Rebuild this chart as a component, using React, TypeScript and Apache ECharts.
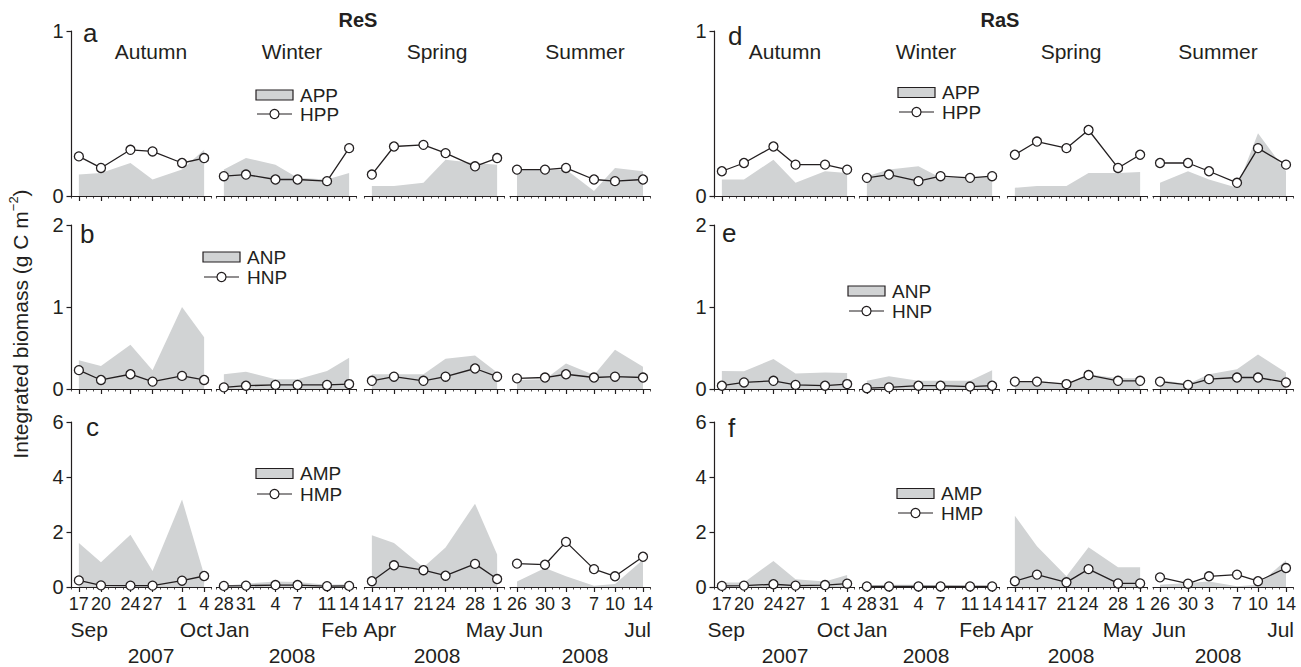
import React, { useEffect, useRef } from 'react';
import * as echarts from 'echarts';

// ---------- categories / labels ----------
const seasons = ['Autumn', 'Winter', 'Spring', 'Summer'];
const sampleDays = [
  [0, 3, 7, 10, 14, 17],
  [0, 3, 7, 10, 14, 17],
  [0, 3, 7, 10, 14, 17],
  [0, 4, 7, 11, 14, 18],
];
const spanDays = [17, 17, 17, 18];
const dayLabels = [
  ['17', '20', '24', '27', '1', '4'],
  ['28', '31', '4', '7', '11', '14'],
  ['14', '17', '21', '24', '28', '1'],
  ['26', '30', '3', '7', '10', '14'],
];
const monthStart = ['Sep', 'Jan', 'Apr', 'Jun'];
const monthEnd = ['Oct', 'Feb', 'May', 'Jul'];
const years = ['2007', '2008', '2008', '2008'];
const panels = ['ReS', 'RaS'];
const letters = [['a', 'b', 'c'], ['d', 'e', 'f']];
const legendNames = [['APP', 'HPP'], ['ANP', 'HNP'], ['AMP', 'HMP']];
const rowMax = [1, 2, 6];
const rowInterval = [1, 1, 2];

// ---------- ReS values (per season: Autumn, Winter, Spring, Summer) ----------
const resAPP = [
  [0.13, 0.14, 0.2, 0.1, 0.16, 0.28],
  [0.16, 0.23, 0.19, 0.11, 0.1, 0.14],
  [0.06, 0.06, 0.08, 0.22, 0.2, 0.19],
  [0.16, 0.16, 0.16, 0.03, 0.17, 0.15],
];
const resHPP = [
  [0.24, 0.17, 0.28, 0.27, 0.2, 0.23],
  [0.12, 0.13, 0.1, 0.1, 0.09, 0.29],
  [0.13, 0.3, 0.31, 0.26, 0.18, 0.23],
  [0.16, 0.16, 0.17, 0.1, 0.09, 0.1],
];
const resANP = [
  [0.35, 0.28, 0.54, 0.23, 1.0, 0.63],
  [0.18, 0.21, 0.12, 0.12, 0.22, 0.38],
  [0.18, 0.18, 0.18, 0.37, 0.41, 0.2],
  [0.11, 0.12, 0.31, 0.17, 0.48, 0.27],
];
const resHNP = [
  [0.23, 0.11, 0.18, 0.09, 0.16, 0.11],
  [0.02, 0.04, 0.05, 0.05, 0.05, 0.06],
  [0.1, 0.15, 0.1, 0.15, 0.25, 0.15],
  [0.13, 0.14, 0.18, 0.14, 0.15, 0.14],
];
const resAMP = [
  [1.6, 0.9, 1.9, 0.58, 3.18, 0.45],
  [0.05, 0.12, 0.2, 0.18, 0.08, 0.1],
  [1.88, 1.6, 0.72, 1.44, 3.03, 1.18],
  [0.2, 0.69, 0.39, 0.05, 0.11, 0.99],
];
const resHMP = [
  [0.24, 0.06, 0.05, 0.05, 0.23, 0.4],
  [0.04, 0.05, 0.07, 0.07, 0.03, 0.04],
  [0.21, 0.79, 0.61, 0.41, 0.84, 0.29],
  [0.85, 0.81, 1.64, 0.65, 0.39, 1.1],
];

// ---------- RaS values ----------
const rasAPP = [
  [0.1, 0.1, 0.22, 0.08, 0.15, 0.14],
  [0.12, 0.16, 0.18, 0.11, 0.11, 0.12],
  [0.05, 0.06, 0.06, 0.14, 0.14, 0.145],
  [0.08, 0.15, 0.1, 0.05, 0.38, 0.15],
];
const rasHPP = [
  [0.15, 0.2, 0.3, 0.19, 0.19, 0.16],
  [0.11, 0.13, 0.09, 0.12, 0.11, 0.12],
  [0.25, 0.33, 0.29, 0.4, 0.17, 0.25],
  [0.2, 0.2, 0.15, 0.08, 0.29, 0.19],
];
const rasANP = [
  [0.22, 0.215, 0.365, 0.19, 0.2, 0.195],
  [0.1, 0.155, 0.1, 0.1, 0.1, 0.23],
  [0.09, 0.1, 0.06, 0.18, 0.13, 0.13],
  [0.11, 0.06, 0.18, 0.24, 0.42, 0.2],
];
const rasHNP = [
  [0.04, 0.08, 0.1, 0.05, 0.04, 0.06],
  [0.01, 0.02, 0.04, 0.04, 0.03, 0.04],
  [0.09, 0.09, 0.06, 0.17, 0.1, 0.1],
  [0.09, 0.05, 0.12, 0.14, 0.14, 0.08],
];
const rasAMP = [
  [0.16, 0.16, 0.95, 0.28, 0.2, 0.44],
  [0.06, 0.08, 0.08, 0.06, 0.05, 0.05],
  [2.59, 1.48, 0.39, 1.45, 0.72, 0.72],
  [0.08, 0.15, 0.2, 0.03, 0.08, 0.97],
];
const rasHMP = [
  [0.04, 0.05, 0.1, 0.05, 0.07, 0.12],
  [0.02, 0.02, 0.02, 0.02, 0.02, 0.02],
  [0.21, 0.45, 0.17, 0.65, 0.13, 0.13],
  [0.35, 0.12, 0.39, 0.45, 0.21, 0.69],
];

const panelData = [
  [[resAPP, resHPP], [resANP, resHNP], [resAMP, resHMP]],
  [[rasAPP, rasHPP], [rasANP, rasHNP], [rasAMP, rasHMP]],
];

// ---------- layout / style ----------
const INK = '#231f20';
const GRAY = '#d1d3d4';
const FONT = '"Liberation Sans", Arial, Helvetica, sans-serif';
const PANEL_X = [71.5, 714.5];
const SEASON_OFF = [0, 145, 293, 438.5];
const SEASON_W = [140, 140, 140, 140];
const ROW_TOP = [31, 225, 422];
const ROW_H = [165, 164, 165];
const SEASON_LABEL_X = [
  [151, 292, 437, 585],
  [785, 926, 1071, 1218],
];
const MONTH_SHIFT = [
  [0, 0, 0, 0],
  [-6, -5, -6, 0],
];
const TITLE_X = [358, 1000];
const LETTER_POS = [
  [[83, 33], [80, 234], [86, 427]],
  [[728, 36], [722, 233], [728, 428]],
];
const LEGEND_POS = [
  [[256, 95, 114], [203, 257, 277], [256, 473.5, 494]],
  [[898, 92.5, 112], [848, 291, 311], [897, 493.5, 513]],
];

export default function App() {
  const ref = useRef<HTMLDivElement>(null);
  useEffect(() => {
    const chart = echarts.init(ref.current!, null, { renderer: 'svg' });
    const grids: any[] = [];
    const xAxes: any[] = [];
    const yAxes: any[] = [];
    const series: any[] = [];
    const graphics: any[] = [];
    let g = 0;
    for (let p = 0; p < 2; p++) {
      for (let r = 0; r < 3; r++) {
        for (let s = 0; s < 4; s++) {
          const left = PANEL_X[p] + SEASON_OFF[s];
          grids.push({ left, top: ROW_TOP[r], width: SEASON_W[s], height: ROW_H[r], containLabel: false });
          const n = spanDays[s];
          const cats = Array.from({ length: n + 3 }, (_, i) => String(i - 1));
          const labelMap: Record<string, string> = {};
          sampleDays[s].forEach((d, k) => (labelMap[String(d)] = dayLabels[s][k]));
          const isSample = (i: number) => sampleDays[s].includes(i - 1);
          xAxes.push({
            type: 'category', gridIndex: g, position: 'bottom', data: cats, boundaryGap: false,
            axisLine: { show: true, onZero: false, lineStyle: { color: INK, width: 1.2 } },
            axisTick: { show: true, interval: (i: number) => isSample(i), length: 5, lineStyle: { color: INK, width: 1.2 } },
            axisLabel: {
              show: r === 2, interval: (i: number) => isSample(i),
              formatter: (v: string) => labelMap[v] ?? '',
              margin: 8, fontSize: 18, color: INK, fontFamily: FONT,
            },
            splitLine: { show: false },
          });
          const majorIdx = xAxes.length - 1;
          xAxes.push({
            type: 'category', gridIndex: g, position: 'bottom', data: cats, boundaryGap: false,
            axisLine: { show: false },
            axisTick: { show: true, interval: 0, length: 2.5, lineStyle: { color: INK, width: 0.8 } },
            axisLabel: { show: false }, splitLine: { show: false },
          });
          yAxes.push({
            type: 'value', gridIndex: g, min: 0, max: rowMax[r], interval: rowInterval[r], show: s === 0,
            axisLine: { show: true, lineStyle: { color: INK, width: 1.2 } },
            axisTick: { show: true, length: 5, lineStyle: { color: INK, width: 1.2 } },
            axisLabel: { fontSize: 20, color: INK, margin: 8, fontFamily: FONT },
            splitLine: { show: false },
          });
          const [areaVals, lineVals] = panelData[p][r];
          const areaPts = sampleDays[s].map((d, k) => [d + 1, areaVals[s][k]]);
          const linePts = sampleDays[s].map((d, k) => [d + 1, lineVals[s][k]]);
          series.push({
            type: 'line', name: legendNames[r][0], xAxisIndex: majorIdx, yAxisIndex: g, data: areaPts,
            symbol: 'none', showSymbol: false, lineStyle: { width: 0, opacity: 0 },
            areaStyle: { color: GRAY, opacity: 1 }, z: 1, silent: true,
          });
          series.push({
            type: 'line', name: legendNames[r][1], xAxisIndex: majorIdx, yAxisIndex: g, data: linePts,
            symbol: 'circle', symbolSize: 9, showSymbol: true, showAllSymbol: true,
            lineStyle: { color: INK, width: 1.3 },
            itemStyle: { color: '#ffffff', borderColor: INK, borderWidth: 1.3 }, z: 3, clip: false,
          });

          // month / year labels under the bottom row
          if (r === 2) {
            const sh = MONTH_SHIFT[p][s];
            const gl = left + sh, gr = left + SEASON_W[s] + sh;
            const base = ROW_TOP[2] + ROW_H[2];
            graphics.push({ type: 'text', x: gl - 1, y: base + 42, style: { text: monthStart[s], fontSize: 21, fontFamily: FONT, fill: INK, align: 'left', verticalAlign: 'middle' } });
            graphics.push({ type: 'text', x: gr + 1, y: base + 42, style: { text: monthEnd[s], fontSize: 21, fontFamily: FONT, fill: INK, align: 'right', verticalAlign: 'middle' } });
            graphics.push({ type: 'text', x: SEASON_LABEL_X[p][s], y: base + 68, style: { text: years[s], fontSize: 21, fontFamily: FONT, fill: INK, align: 'center', verticalAlign: 'middle' } });
          }
          if (r === 0) {
            graphics.push({ type: 'text', x: SEASON_LABEL_X[p][s], y: 51, style: { text: seasons[s], fontSize: 21, fontFamily: FONT, fill: INK, align: 'center', verticalAlign: 'middle' } });
          }
          g++;
        }
        // panel letter
        const [lx, ly] = LETTER_POS[p][r];
        graphics.push({ type: 'text', x: lx, y: ly, style: { text: letters[p][r], fontSize: 26, fontFamily: FONT, fill: INK, align: 'left', verticalAlign: 'middle' } });
        // legend
        const [bx, y1, y2] = LEGEND_POS[p][r];
        graphics.push({ type: 'rect', shape: { x: bx, y: y1 - 5, width: 37, height: 10 }, style: { fill: GRAY, stroke: INK, lineWidth: 1.2 } });
        graphics.push({ type: 'text', x: bx + 44, y: y1, style: { text: legendNames[r][0], fontSize: 19, fontFamily: FONT, fill: INK, align: 'left', verticalAlign: 'middle' } });
        graphics.push({ type: 'line', shape: { x1: bx + 1, y1: y2, x2: bx + 36, y2: y2 }, style: { stroke: INK, lineWidth: 1.2 } });
        graphics.push({ type: 'circle', shape: { cx: bx + 18.5, cy: y2, r: 4.5 }, style: { fill: '#ffffff', stroke: INK, lineWidth: 1.2 }, z: 101 });
        graphics.push({ type: 'text', x: bx + 44, y: y2, style: { text: legendNames[r][1], fontSize: 19, fontFamily: FONT, fill: INK, align: 'left', verticalAlign: 'middle' } });
      }
      graphics.push({ type: 'text', x: TITLE_X[p], y: 20, style: { text: panels[p], fontSize: 20, fontWeight: 'bold', fontFamily: FONT, fill: INK, align: 'center', verticalAlign: 'middle' } });
    }
    graphics.push({
      type: 'text', x: 19, y: 324, rotation: Math.PI / 2,
      style: {
        text: '{n|Integrated biomass (g C m}{s|−2}{n|)}',
        align: 'center', verticalAlign: 'middle', fill: INK, fontFamily: FONT,
        rich: {
          n: { fontSize: 21, fontFamily: FONT, fill: INK, lineHeight: 24, verticalAlign: 'bottom' },
          s: { fontSize: 13, fontFamily: FONT, fill: INK, lineHeight: 14, verticalAlign: 'top' },
        },
      },
    });

    chart.setOption({
      animation: false,
      backgroundColor: '#ffffff',
      grid: grids,
      xAxis: xAxes,
      yAxis: yAxes,
      series,
      graphic: { elements: graphics },
    });
    return () => chart.dispose();
  }, []);
  return (
    <div
      ref={ref}
      style={{ position: 'absolute', left: 0, top: 0, width: '1301px', height: '667px', background: '#fff' }}
    />
  );
}
